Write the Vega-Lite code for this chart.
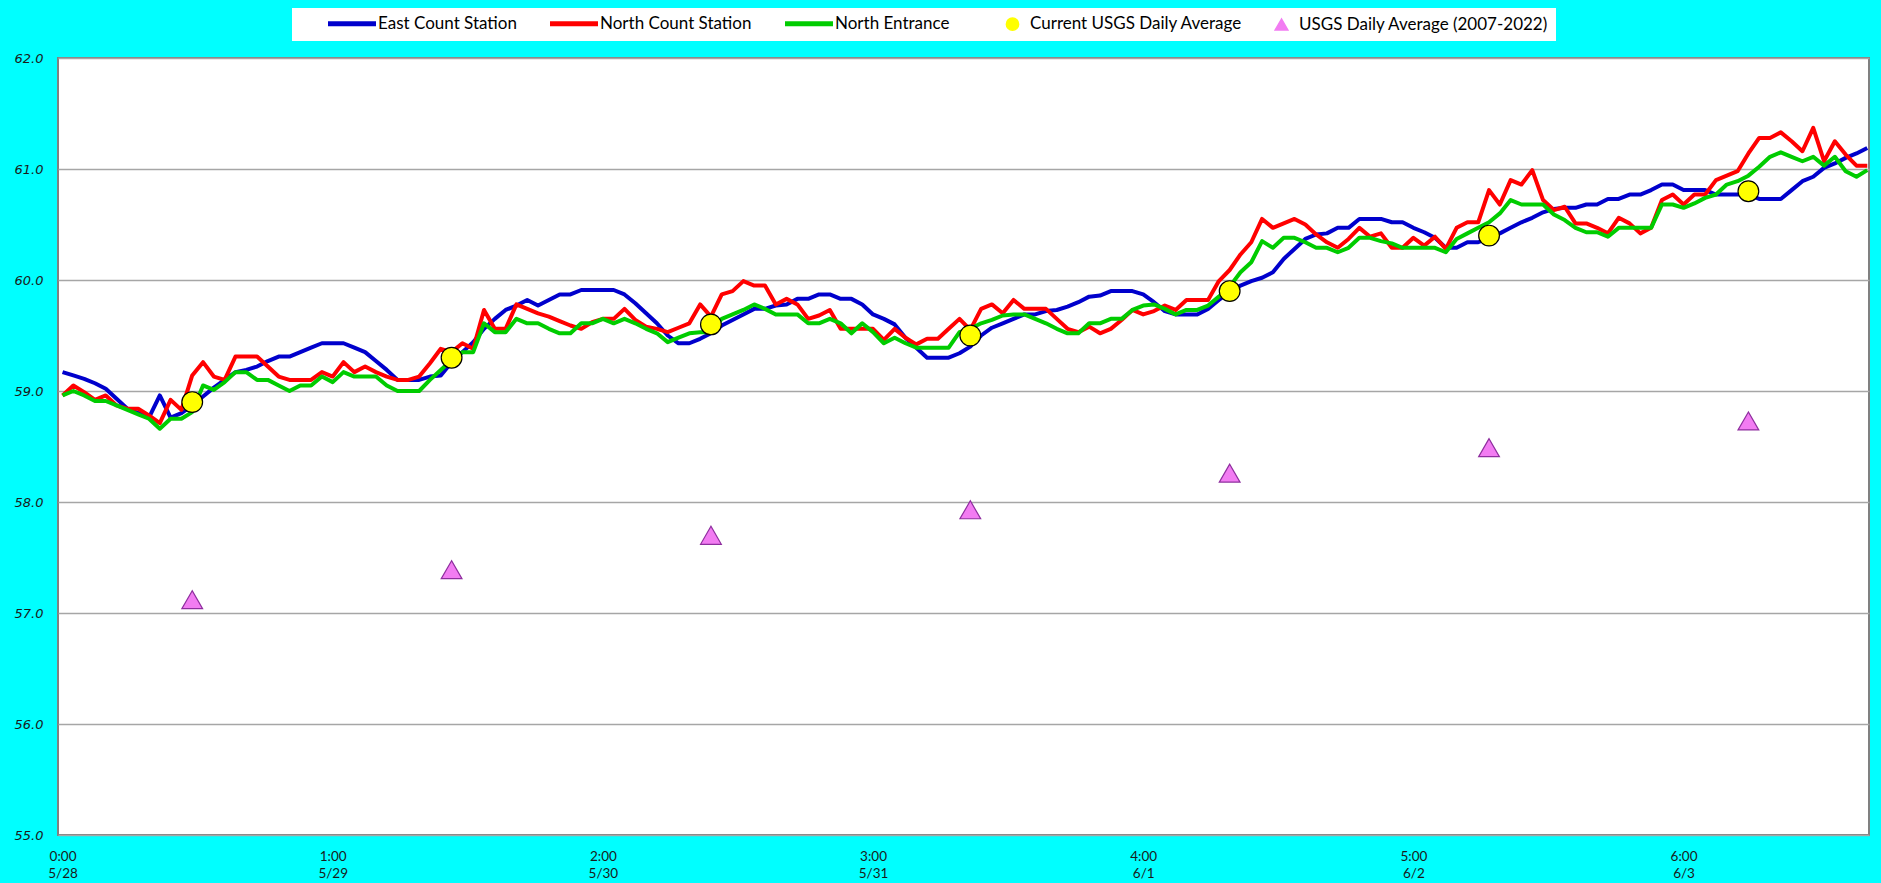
{
  "$schema": "https://vega.github.io/schema/vega-lite/v6.json",
  "width": 1811,
  "height": 777,
  "autosize": {"type": "none"},
  "padding": {"left": 58, "top": 58, "right": 12, "bottom": 48},
  "background": "#00FFFF",
  "config": {
    "view": {"fill": "#FFFFFF", "stroke": "#808080", "strokeWidth": 2},
    "axis": {"domain": false, "ticks": false, "title": null},
    "legend": {
      "orient": "none", "legendX": 234, "legendY": -50,
      "direction": "horizontal", "columns": 5, "columnPadding": 23,
      "fillColor": "#FFFFFF", "padding": 7,
      "titleOrient": "left", "titlePadding": 29, "titleFontSize": 10,
      "labelFont": "Lato", "labelFontSize": 17, "labelColor": "#000000",
      "labelOffset": 6, "labelLimit": 400, "symbolSize": 196
    }
  },
  "datasets": {
    "wide": [
      {"h":0,"East Count Station":59.17,"North Count Station":58.96,"North Entrance":58.96},
      {"h":1,"East Count Station":59.14,"North Count Station":59.05,"North Entrance":59.00},
      {"h":2,"East Count Station":59.11,"North Count Station":58.99,"North Entrance":58.96},
      {"h":3,"East Count Station":59.07,"North Count Station":58.92,"North Entrance":58.91},
      {"h":4,"East Count Station":59.02,"North Count Station":58.96,"North Entrance":58.91},
      {"h":5,"East Count Station":58.93,"North Count Station":58.87,"North Entrance":58.87},
      {"h":6,"East Count Station":58.84,"North Count Station":58.84,"North Entrance":58.83},
      {"h":7,"East Count Station":58.80,"North Count Station":58.84,"North Entrance":58.79},
      {"h":8,"East Count Station":58.76,"North Count Station":58.78,"North Entrance":58.75},
      {"h":9,"East Count Station":58.96,"North Count Station":58.71,"North Entrance":58.66},
      {"h":10,"East Count Station":58.76,"North Count Station":58.92,"North Entrance":58.75},
      {"h":11,"East Count Station":58.80,"North Count Station":58.83,"North Entrance":58.75},
      {"h":12,"East Count Station":58.87,"North Count Station":59.14,"North Entrance":58.81},
      {"h":13,"East Count Station":58.95,"North Count Station":59.26,"North Entrance":59.05},
      {"h":14,"East Count Station":59.03,"North Count Station":59.13,"North Entrance":59.01},
      {"h":15,"East Count Station":59.10,"North Count Station":59.10,"North Entrance":59.08},
      {"h":16,"East Count Station":59.17,"North Count Station":59.31,"North Entrance":59.17},
      {"h":17,"East Count Station":59.19,"North Count Station":59.31,"North Entrance":59.17},
      {"h":18,"East Count Station":59.22,"North Count Station":59.31,"North Entrance":59.10},
      {"h":19,"East Count Station":59.27,"North Count Station":59.22,"North Entrance":59.10},
      {"h":20,"East Count Station":59.31,"North Count Station":59.13,"North Entrance":59.05},
      {"h":21,"East Count Station":59.31,"North Count Station":59.10,"North Entrance":59.00},
      {"h":22,"East Count Station":59.35,"North Count Station":59.10,"North Entrance":59.05},
      {"h":23,"East Count Station":59.39,"North Count Station":59.10,"North Entrance":59.05},
      {"h":24,"East Count Station":59.43,"North Count Station":59.17,"North Entrance":59.13},
      {"h":25,"East Count Station":59.43,"North Count Station":59.13,"North Entrance":59.08},
      {"h":26,"East Count Station":59.43,"North Count Station":59.26,"North Entrance":59.17},
      {"h":27,"East Count Station":59.39,"North Count Station":59.17,"North Entrance":59.13},
      {"h":28,"East Count Station":59.35,"North Count Station":59.22,"North Entrance":59.13},
      {"h":29,"East Count Station":59.27,"North Count Station":59.17,"North Entrance":59.13},
      {"h":30,"East Count Station":59.19,"North Count Station":59.13,"North Entrance":59.05},
      {"h":31,"East Count Station":59.10,"North Count Station":59.10,"North Entrance":59.00},
      {"h":32,"East Count Station":59.10,"North Count Station":59.10,"North Entrance":59.00},
      {"h":33,"East Count Station":59.10,"North Count Station":59.13,"North Entrance":59.00},
      {"h":34,"East Count Station":59.13,"North Count Station":59.25,"North Entrance":59.10},
      {"h":35,"East Count Station":59.14,"North Count Station":59.38,"North Entrance":59.19},
      {"h":36,"East Count Station":59.26,"North Count Station":59.35,"North Entrance":59.28},
      {"h":37,"East Count Station":59.35,"North Count Station":59.43,"North Entrance":59.35},
      {"h":38,"East Count Station":59.44,"North Count Station":59.38,"North Entrance":59.35},
      {"h":39,"East Count Station":59.56,"North Count Station":59.73,"North Entrance":59.61},
      {"h":40,"East Count Station":59.65,"North Count Station":59.56,"North Entrance":59.53},
      {"h":41,"East Count Station":59.73,"North Count Station":59.56,"North Entrance":59.53},
      {"h":42,"East Count Station":59.77,"North Count Station":59.78,"North Entrance":59.65},
      {"h":43,"East Count Station":59.82,"North Count Station":59.74,"North Entrance":59.61},
      {"h":44,"East Count Station":59.77,"North Count Station":59.70,"North Entrance":59.61},
      {"h":45,"East Count Station":59.82,"North Count Station":59.67,"North Entrance":59.56},
      {"h":46,"East Count Station":59.87,"North Count Station":59.63,"North Entrance":59.52},
      {"h":47,"East Count Station":59.87,"North Count Station":59.59,"North Entrance":59.52},
      {"h":48,"East Count Station":59.91,"North Count Station":59.56,"North Entrance":59.61},
      {"h":49,"East Count Station":59.91,"North Count Station":59.62,"North Entrance":59.61},
      {"h":50,"East Count Station":59.91,"North Count Station":59.65,"North Entrance":59.65},
      {"h":51,"East Count Station":59.91,"North Count Station":59.65,"North Entrance":59.61},
      {"h":52,"East Count Station":59.87,"North Count Station":59.74,"North Entrance":59.65},
      {"h":53,"East Count Station":59.79,"North Count Station":59.64,"North Entrance":59.61},
      {"h":54,"East Count Station":59.70,"North Count Station":59.58,"North Entrance":59.56},
      {"h":55,"East Count Station":59.61,"North Count Station":59.56,"North Entrance":59.52},
      {"h":56,"East Count Station":59.50,"North Count Station":59.53,"North Entrance":59.44},
      {"h":57,"East Count Station":59.43,"North Count Station":59.57,"North Entrance":59.48},
      {"h":58,"East Count Station":59.43,"North Count Station":59.61,"North Entrance":59.52},
      {"h":59,"East Count Station":59.47,"North Count Station":59.78,"North Entrance":59.53},
      {"h":60,"East Count Station":59.52,"North Count Station":59.67,"North Entrance":59.53},
      {"h":61,"East Count Station":59.59,"North Count Station":59.87,"North Entrance":59.65},
      {"h":62,"East Count Station":59.64,"North Count Station":59.90,"North Entrance":59.69},
      {"h":63,"East Count Station":59.69,"North Count Station":59.99,"North Entrance":59.73},
      {"h":64,"East Count Station":59.74,"North Count Station":59.95,"North Entrance":59.78},
      {"h":65,"East Count Station":59.74,"North Count Station":59.95,"North Entrance":59.74},
      {"h":66,"East Count Station":59.77,"North Count Station":59.78,"North Entrance":59.69},
      {"h":67,"East Count Station":59.78,"North Count Station":59.83,"North Entrance":59.69},
      {"h":68,"East Count Station":59.83,"North Count Station":59.78,"North Entrance":59.69},
      {"h":69,"East Count Station":59.83,"North Count Station":59.65,"North Entrance":59.61},
      {"h":70,"East Count Station":59.87,"North Count Station":59.68,"North Entrance":59.61},
      {"h":71,"East Count Station":59.87,"North Count Station":59.73,"North Entrance":59.65},
      {"h":72,"East Count Station":59.83,"North Count Station":59.56,"North Entrance":59.61},
      {"h":73,"East Count Station":59.83,"North Count Station":59.56,"North Entrance":59.52},
      {"h":74,"East Count Station":59.78,"North Count Station":59.56,"North Entrance":59.61},
      {"h":75,"East Count Station":59.69,"North Count Station":59.56,"North Entrance":59.53},
      {"h":76,"East Count Station":59.65,"North Count Station":59.46,"North Entrance":59.43},
      {"h":77,"East Count Station":59.60,"North Count Station":59.56,"North Entrance":59.48},
      {"h":78,"East Count Station":59.48,"North Count Station":59.48,"North Entrance":59.43},
      {"h":79,"East Count Station":59.39,"North Count Station":59.42,"North Entrance":59.39},
      {"h":80,"East Count Station":59.30,"North Count Station":59.47,"North Entrance":59.39},
      {"h":81,"East Count Station":59.30,"North Count Station":59.47,"North Entrance":59.39},
      {"h":82,"East Count Station":59.30,"North Count Station":59.56,"North Entrance":59.39},
      {"h":83,"East Count Station":59.34,"North Count Station":59.65,"North Entrance":59.53},
      {"h":84,"East Count Station":59.40,"North Count Station":59.55,"North Entrance":59.56},
      {"h":85,"East Count Station":59.50,"North Count Station":59.74,"North Entrance":59.61},
      {"h":86,"East Count Station":59.57,"North Count Station":59.78,"North Entrance":59.64},
      {"h":87,"East Count Station":59.61,"North Count Station":59.70,"North Entrance":59.68},
      {"h":88,"East Count Station":59.65,"North Count Station":59.82,"North Entrance":59.69},
      {"h":89,"East Count Station":59.69,"North Count Station":59.74,"North Entrance":59.69},
      {"h":90,"East Count Station":59.69,"North Count Station":59.74,"North Entrance":59.65},
      {"h":91,"East Count Station":59.72,"North Count Station":59.74,"North Entrance":59.61},
      {"h":92,"East Count Station":59.73,"North Count Station":59.65,"North Entrance":59.56},
      {"h":93,"East Count Station":59.76,"North Count Station":59.56,"North Entrance":59.52},
      {"h":94,"East Count Station":59.80,"North Count Station":59.53,"North Entrance":59.52},
      {"h":95,"East Count Station":59.85,"North Count Station":59.58,"North Entrance":59.61},
      {"h":96,"East Count Station":59.86,"North Count Station":59.52,"North Entrance":59.61},
      {"h":97,"East Count Station":59.90,"North Count Station":59.56,"North Entrance":59.65},
      {"h":98,"East Count Station":59.90,"North Count Station":59.64,"North Entrance":59.65},
      {"h":99,"East Count Station":59.90,"North Count Station":59.73,"North Entrance":59.73},
      {"h":100,"East Count Station":59.87,"North Count Station":59.69,"North Entrance":59.77},
      {"h":101,"East Count Station":59.80,"North Count Station":59.72,"North Entrance":59.78},
      {"h":102,"East Count Station":59.72,"North Count Station":59.77,"North Entrance":59.74},
      {"h":103,"East Count Station":59.69,"North Count Station":59.73,"North Entrance":59.69},
      {"h":104,"East Count Station":59.69,"North Count Station":59.82,"North Entrance":59.73},
      {"h":105,"East Count Station":59.69,"North Count Station":59.82,"North Entrance":59.73},
      {"h":106,"East Count Station":59.74,"North Count Station":59.82,"North Entrance":59.77},
      {"h":107,"East Count Station":59.82,"North Count Station":59.99,"North Entrance":59.85},
      {"h":108,"East Count Station":59.89,"North Count Station":60.09,"North Entrance":59.94},
      {"h":109,"East Count Station":59.95,"North Count Station":60.23,"North Entrance":60.07},
      {"h":110,"East Count Station":59.99,"North Count Station":60.34,"North Entrance":60.16},
      {"h":111,"East Count Station":60.02,"North Count Station":60.55,"North Entrance":60.35},
      {"h":112,"East Count Station":60.07,"North Count Station":60.47,"North Entrance":60.29},
      {"h":113,"East Count Station":60.19,"North Count Station":60.51,"North Entrance":60.38},
      {"h":114,"East Count Station":60.28,"North Count Station":60.55,"North Entrance":60.38},
      {"h":115,"East Count Station":60.37,"North Count Station":60.50,"North Entrance":60.34},
      {"h":116,"East Count Station":60.41,"North Count Station":60.41,"North Entrance":60.29},
      {"h":117,"East Count Station":60.42,"North Count Station":60.34,"North Entrance":60.29},
      {"h":118,"East Count Station":60.47,"North Count Station":60.29,"North Entrance":60.25},
      {"h":119,"East Count Station":60.47,"North Count Station":60.37,"North Entrance":60.29},
      {"h":120,"East Count Station":60.55,"North Count Station":60.47,"North Entrance":60.38},
      {"h":121,"East Count Station":60.55,"North Count Station":60.39,"North Entrance":60.38},
      {"h":122,"East Count Station":60.55,"North Count Station":60.42,"North Entrance":60.35},
      {"h":123,"East Count Station":60.52,"North Count Station":60.29,"North Entrance":60.33},
      {"h":124,"East Count Station":60.52,"North Count Station":60.29,"North Entrance":60.29},
      {"h":125,"East Count Station":60.47,"North Count Station":60.38,"North Entrance":60.29},
      {"h":126,"East Count Station":60.43,"North Count Station":60.31,"North Entrance":60.29},
      {"h":127,"East Count Station":60.38,"North Count Station":60.39,"North Entrance":60.29},
      {"h":128,"East Count Station":60.29,"North Count Station":60.28,"North Entrance":60.25},
      {"h":129,"East Count Station":60.29,"North Count Station":60.47,"North Entrance":60.37},
      {"h":130,"East Count Station":60.34,"North Count Station":60.52,"North Entrance":60.42},
      {"h":131,"East Count Station":60.34,"North Count Station":60.52,"North Entrance":60.47},
      {"h":132,"East Count Station":60.38,"North Count Station":60.81,"North Entrance":60.52},
      {"h":133,"East Count Station":60.42,"North Count Station":60.68,"North Entrance":60.60},
      {"h":134,"East Count Station":60.47,"North Count Station":60.90,"North Entrance":60.72},
      {"h":135,"East Count Station":60.52,"North Count Station":60.86,"North Entrance":60.68},
      {"h":136,"East Count Station":60.56,"North Count Station":60.99,"North Entrance":60.68},
      {"h":137,"East Count Station":60.61,"North Count Station":60.72,"North Entrance":60.68},
      {"h":138,"East Count Station":60.64,"North Count Station":60.63,"North Entrance":60.59},
      {"h":139,"East Count Station":60.65,"North Count Station":60.66,"North Entrance":60.54},
      {"h":140,"East Count Station":60.65,"North Count Station":60.51,"North Entrance":60.47},
      {"h":141,"East Count Station":60.68,"North Count Station":60.51,"North Entrance":60.43},
      {"h":142,"East Count Station":60.68,"North Count Station":60.47,"North Entrance":60.43},
      {"h":143,"East Count Station":60.73,"North Count Station":60.42,"North Entrance":60.39},
      {"h":144,"East Count Station":60.73,"North Count Station":60.56,"North Entrance":60.47},
      {"h":145,"East Count Station":60.77,"North Count Station":60.51,"North Entrance":60.47},
      {"h":146,"East Count Station":60.77,"North Count Station":60.42,"North Entrance":60.47},
      {"h":147,"East Count Station":60.81,"North Count Station":60.47,"North Entrance":60.47},
      {"h":148,"East Count Station":60.86,"North Count Station":60.72,"North Entrance":60.68},
      {"h":149,"East Count Station":60.86,"North Count Station":60.77,"North Entrance":60.68},
      {"h":150,"East Count Station":60.81,"North Count Station":60.68,"North Entrance":60.65},
      {"h":151,"East Count Station":60.81,"North Count Station":60.77,"North Entrance":60.69},
      {"h":152,"East Count Station":60.81,"North Count Station":60.77,"North Entrance":60.74},
      {"h":153,"East Count Station":60.77,"North Count Station":60.90,"North Entrance":60.77},
      {"h":154,"East Count Station":60.77,"North Count Station":60.94,"North Entrance":60.86},
      {"h":155,"East Count Station":60.77,"North Count Station":60.98,"North Entrance":60.89},
      {"h":156,"East Count Station":60.77,"North Count Station":61.14,"North Entrance":60.94},
      {"h":157,"East Count Station":60.73,"North Count Station":61.28,"North Entrance":61.02},
      {"h":158,"East Count Station":60.73,"North Count Station":61.28,"North Entrance":61.11},
      {"h":159,"East Count Station":60.73,"North Count Station":61.33,"North Entrance":61.15},
      {"h":160,"East Count Station":60.81,"North Count Station":61.25,"North Entrance":61.11},
      {"h":161,"East Count Station":60.89,"North Count Station":61.16,"North Entrance":61.07},
      {"h":162,"East Count Station":60.93,"North Count Station":61.37,"North Entrance":61.11},
      {"h":163,"East Count Station":61.01,"North Count Station":61.07,"North Entrance":61.03},
      {"h":164,"East Count Station":61.05,"North Count Station":61.25,"North Entrance":61.11},
      {"h":165,"East Count Station":61.10,"North Count Station":61.13,"North Entrance":60.98},
      {"h":166,"East Count Station":61.14,"North Count Station":61.03,"North Entrance":60.93},
      {"h":167,"East Count Station":61.19,"North Count Station":61.03,"North Entrance":60.99}
    ],
    "usgs": [
      {"h":12,"series":"Current USGS Daily Average","temp":58.9},
      {"h":36,"series":"Current USGS Daily Average","temp":59.3},
      {"h":60,"series":"Current USGS Daily Average","temp":59.6},
      {"h":84,"series":"Current USGS Daily Average","temp":59.5},
      {"h":108,"series":"Current USGS Daily Average","temp":59.9},
      {"h":132,"series":"Current USGS Daily Average","temp":60.4},
      {"h":156,"series":"Current USGS Daily Average","temp":60.8},
      {"h":12,"series":"USGS Daily Average (2007-2022)","temp":57.12},
      {"h":36,"series":"USGS Daily Average (2007-2022)","temp":57.39},
      {"h":60,"series":"USGS Daily Average (2007-2022)","temp":57.70},
      {"h":84,"series":"USGS Daily Average (2007-2022)","temp":57.93},
      {"h":108,"series":"USGS Daily Average (2007-2022)","temp":58.26},
      {"h":132,"series":"USGS Daily Average (2007-2022)","temp":58.49},
      {"h":156,"series":"USGS Daily Average (2007-2022)","temp":58.73}
    ]
  },
  "layer": [
    {
      "data": {"name": "wide"},
      "transform": [{"fold": ["East Count Station", "North Count Station", "North Entrance"], "as": ["series", "temp"]}],
      "mark": {"type": "line", "strokeWidth": 4, "strokeJoin": "round"},
      "encoding": {
        "x": {
          "field": "h", "type": "quantitative",
          "scale": {"domain": [-0.42, 167.16], "nice": false, "zero": false},
          "axis": {
            "values": [0, 25, 50, 75, 100, 125, 150],
            "grid": false,
            "labelExpr": "[floor(datum.value/25) + ':00', ['5/28','5/29','5/30','5/31','6/1','6/2','6/3'][floor(datum.value/25)]]",
            "labelFont": "Lato",
            "labelFontSize": 13.5,
            "labelLineHeight": 17,
            "labelPadding": 14,
            "labelColor": "#1A1A1A"
          }
        },
        "y": {
          "field": "temp", "type": "quantitative",
          "scale": {"domain": [55, 62], "nice": false, "zero": false},
          "axis": {
            "values": [55, 56, 57, 58, 59, 60, 61, 62],
            "format": ".1f",
            "grid": true,
            "gridColor": "#A6A6A6",
            "gridWidth": 1.5,
            "labelFont": "DejaVu Sans",
            "labelFontStyle": "italic",
            "labelFontSize": 13,
            "labelColor": "#1A1A1A",
            "labelPadding": 15
          }
        },
        "color": {
          "field": "series", "type": "nominal",
          "title": "\u00a0",
          "scale": {
            "domain": ["East Count Station", "North Count Station", "North Entrance", "Current USGS Daily Average", "USGS Daily Average (2007-2022)"],
            "range": ["#0000CC", "#FF0000", "#00CC00", "#FFFF00", "#F27CF2"]
          },
          "legend": {
            "title": "\u00a0",
            "encode": {
              "symbols": {
                "update": {
                  "x": {"signal": "[9.5, 9.5, 2.5, 39.5, 15.5][indexof(['East Count Station','North Count Station','North Entrance','Current USGS Daily Average','USGS Daily Average (2007-2022)'], datum.value)]"},
                  "stroke": {"signal": "datum.value === 'Current USGS Daily Average' ? '#000000' : datum.value === 'USGS Daily Average (2007-2022)' ? '#8E2E9E' : scale('color', datum.value)"},
                  "strokeWidth": {"signal": "datum.value === 'Current USGS Daily Average' || datum.value === 'USGS Daily Average (2007-2022)' ? 1.5 : 5"},
                  "size": {"signal": "datum.value === 'Current USGS Daily Average' ? 150 : datum.value === 'USGS Daily Average (2007-2022)' ? 160 : 196"},
                  "opacity": {"value": 1}
                }
              },
              "labels": {
                "update": {
                  "x": {"signal": "[50, 50, 43, 57, 33][indexof(['East Count Station','North Count Station','North Entrance','Current USGS Daily Average','USGS Daily Average (2007-2022)'], datum.value)]"}
                }
              }
            }
          }
        }
      }
    },
    {
      "data": {"name": "usgs"},
      "mark": {"type": "point", "filled": true, "opacity": 1, "size": 430, "strokeWidth": 1.2},
      "encoding": {
        "x": {"field": "h", "type": "quantitative"},
        "y": {"field": "temp", "type": "quantitative"},
        "color": {
          "field": "series", "type": "nominal",
          "title": "\u00a0",
          "scale": {
            "domain": ["East Count Station", "North Count Station", "North Entrance", "Current USGS Daily Average", "USGS Daily Average (2007-2022)"],
            "range": ["#0000CC", "#FF0000", "#00CC00", "#FFFF00", "#F27CF2"]
          },
          "legend": {
            "title": "\u00a0",
            "encode": {
              "symbols": {
                "update": {
                  "x": {"signal": "[9.5, 9.5, 2.5, 39.5, 15.5][indexof(['East Count Station','North Count Station','North Entrance','Current USGS Daily Average','USGS Daily Average (2007-2022)'], datum.value)]"},
                  "stroke": {"signal": "datum.value === 'Current USGS Daily Average' ? '#000000' : datum.value === 'USGS Daily Average (2007-2022)' ? '#8E2E9E' : scale('color', datum.value)"},
                  "strokeWidth": {"signal": "datum.value === 'Current USGS Daily Average' || datum.value === 'USGS Daily Average (2007-2022)' ? 1.5 : 5"},
                  "size": {"signal": "datum.value === 'Current USGS Daily Average' ? 150 : datum.value === 'USGS Daily Average (2007-2022)' ? 160 : 196"},
                  "opacity": {"value": 1}
                }
              },
              "labels": {
                "update": {
                  "x": {"signal": "[50, 50, 43, 57, 33][indexof(['East Count Station','North Count Station','North Entrance','Current USGS Daily Average','USGS Daily Average (2007-2022)'], datum.value)]"}
                }
              }
            }
          }
        },
        "shape": {
          "field": "series", "type": "nominal",
          "title": "\u00a0",
          "scale": {
            "domain": ["East Count Station", "North Count Station", "North Entrance", "Current USGS Daily Average", "USGS Daily Average (2007-2022)"],
            "range": ["M-1.357,0L5.5,0", "M-1.357,0L5.5,0", "M-1.357,0L5.5,0", "circle", "triangle-up"]
          },
          "legend": {
            "title": "\u00a0",
            "encode": {
              "symbols": {
                "update": {
                  "x": {"signal": "[9.5, 9.5, 2.5, 39.5, 15.5][indexof(['East Count Station','North Count Station','North Entrance','Current USGS Daily Average','USGS Daily Average (2007-2022)'], datum.value)]"},
                  "stroke": {"signal": "datum.value === 'Current USGS Daily Average' ? '#000000' : datum.value === 'USGS Daily Average (2007-2022)' ? '#8E2E9E' : scale('color', datum.value)"},
                  "strokeWidth": {"signal": "datum.value === 'Current USGS Daily Average' || datum.value === 'USGS Daily Average (2007-2022)' ? 1.5 : 5"},
                  "size": {"signal": "datum.value === 'Current USGS Daily Average' ? 150 : datum.value === 'USGS Daily Average (2007-2022)' ? 160 : 196"},
                  "opacity": {"value": 1}
                }
              },
              "labels": {
                "update": {
                  "x": {"signal": "[50, 50, 43, 57, 33][indexof(['East Count Station','North Count Station','North Entrance','Current USGS Daily Average','USGS Daily Average (2007-2022)'], datum.value)]"}
                }
              }
            }
          }
        },
        "stroke": {
          "field": "series", "type": "nominal",
          "scale": {"domain": ["Current USGS Daily Average", "USGS Daily Average (2007-2022)"], "range": ["#000000", "#8E2E9E"]},
          "legend": null
        }
      }
    }
  ]
}
